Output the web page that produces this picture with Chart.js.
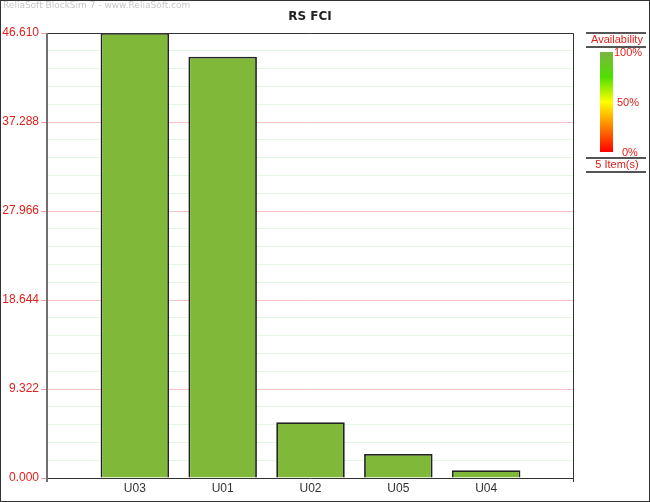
<!DOCTYPE html>
<html>
<head>
<meta charset="utf-8">
<script src="https://cdn.jsdelivr.net/npm/chart.js@4"></script>
<style>
  html, body { margin: 0; padding: 0; background: #fff; }
  #wrap { position: relative; width: 650px; height: 502px; box-sizing: border-box; overflow: hidden; }
  #frame { position: absolute; left: 0; top: 0; width: 650px; height: 502px; box-sizing: border-box; border: 1px solid #333; pointer-events: none; }
  canvas { position: absolute; left: 0; top: 0; }
  .wm { position: absolute; left: 3px; top: 0px; font: 9px "DejaVu Sans", sans-serif; color: #c8c8c8; }
  .ttl { position: absolute; left: 210px; width: 200px; text-align: center; top: 9px; font: bold 12px "DejaVu Sans", sans-serif; color: #222; }
  .lg { position: absolute; font: 11px "Liberation Sans", sans-serif; color: #e0201c; }
  .hl { position: absolute; left: 586px; width: 60px; height: 0; border-top: 2px solid #555; }
  #grad { position: absolute; left: 600px; top: 52px; width: 13px; height: 100px;
          background: linear-gradient(to bottom, #7cb342 0%, #4ee000 25%, #ffff00 50%, #ff8000 75%, #ff0000 100%); }
</style>
</head>
<body>
<div id="wrap">
  <canvas id="c" width="650" height="502"></canvas>
  <div class="wm">ReliaSoft BlockSim 7 - www.ReliaSoft.com</div>
  <div class="ttl">RS FCI</div>
  <div class="hl" style="top:32px"></div>
  <div class="lg" style="left:586px;width:62px;text-align:center;top:33px">Availability</div>
  <div class="hl" style="top:46px"></div>
  <div id="grad"></div>
  <div class="lg" style="left:614px;top:46px">100%</div>
  <div class="lg" style="left:617px;top:96px">50%</div>
  <div class="lg" style="left:622px;top:146px">0%</div>
  <div class="hl" style="top:157px"></div>
  <div class="lg" style="left:586px;width:62px;text-align:center;top:158px">5 Item(s)</div>
  <div class="hl" style="top:171px"></div>
  <div id="frame"></div>
</div>
<script>
const categories = ['U03', 'U01', 'U02', 'U05', 'U04'];
const fciValues = [46.61, 44.13, 5.84, 2.52, 0.81];
const yMajorTicks = [0, 9.322, 18.644, 27.966, 37.288, 46.610];
const minorPerMajor = 5;

const labels = [''].concat(categories, ['']);
const data = [null].concat(fciValues, [null]);

const plotBorder = {
  id: 'plotBorder',
  afterDraw(chart) {
    const a = chart.chartArea, ctx = chart.ctx;
    ctx.save();
    ctx.strokeStyle = '#333';
    ctx.lineWidth = 1;
    ctx.beginPath();
    ctx.moveTo(a.left, a.top + 0.5);
    ctx.lineTo(a.right - 0.5, a.top + 0.5);
    ctx.lineTo(a.right - 0.5, a.bottom + 4);
    ctx.stroke();
    ctx.beginPath();
    ctx.moveTo(a.left, a.bottom + 0.5);
    ctx.lineTo(a.right, a.bottom + 0.5);
    ctx.stroke();
    ctx.strokeStyle = '#707070';
    ctx.lineWidth = 2;
    ctx.beginPath();
    ctx.moveTo(a.left, a.top);
    ctx.lineTo(a.left, a.bottom + 4);
    ctx.stroke();
    ctx.restore();
  }
};

new Chart(document.getElementById('c'), {
  type: 'bar',
  data: {
    labels: labels,
    datasets: [{
      data: data,
      backgroundColor: '#80b83a',
      borderColor: '#222',
      borderWidth: 1.8,
      categoryPercentage: 1,
      barPercentage: 0.78
    }]
  },
  options: {
    responsive: false,
    animation: false,
    layout: { padding: { top: 33, right: 76, bottom: 0, left: 0 } },
    plugins: {
      legend: { display: false },
      tooltip: { enabled: false },
      title: { display: false }
    },
    scales: {
      x: {
        offset: false,
        grid: { display: false, drawTicks: false },
        border: { display: false },
        ticks: {
          color: '#333',
          font: { family: '"Liberation Sans", sans-serif', size: 12 },
          padding: 3,
          maxRotation: 0,
          autoSkip: false
        },
        afterFit(s) { s.height = 24; }
      },
      y: {
        min: 0,
        max: yMajorTicks[yMajorTicks.length - 1],
        afterBuildTicks(s) {
          const t = [];
          for (let i = 0; i < yMajorTicks.length; i++) {
            t.push({ value: yMajorTicks[i], major: true });
            if (i < yMajorTicks.length - 1) {
              const step = (yMajorTicks[i + 1] - yMajorTicks[i]) / minorPerMajor;
              for (let k = 1; k < minorPerMajor; k++) t.push({ value: yMajorTicks[i] + step * k, major: false });
            }
          }
          s.ticks = t;
        },
        afterFit(s) { s.width = 47; },
        border: { display: false },
        grid: {
          color: (c) => (c.tick && c.tick.major) ? '#f8c4c4' : '#e2f8e2',
          tickColor: (c) => (c.tick && c.tick.major) ? '#f0a0a0' : 'rgba(0,0,0,0)',
          tickLength: 6,
          lineWidth: 1
        },
        ticks: {
          color: '#e0201c',
          font: { family: '"Liberation Sans", sans-serif', size: 12 },
          padding: 2,
          autoSkip: false,
          callback: function (v, i, ticks) { return ticks[i].major ? Number(v).toFixed(3) : ''; }
        }
      }
    }
  },
  plugins: [plotBorder]
});
</script>
</body>
</html>
